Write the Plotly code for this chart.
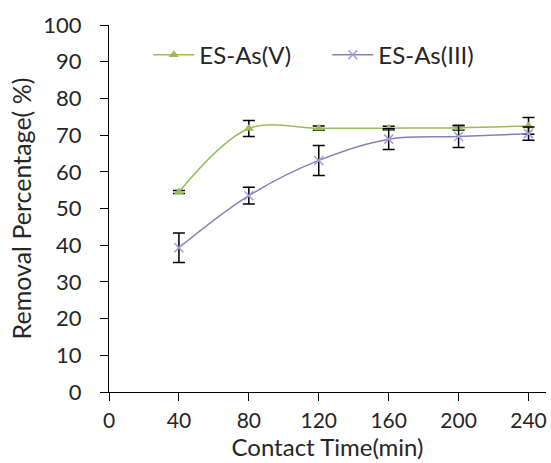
import plotly.graph_objects as go

time_min = [40, 80, 120, 160, 200, 240]
as_v = [54.5, 71.8, 71.9, 71.9, 72.0, 72.5]
as_v_err = [0.4, 2.2, 0.6, 0.5, 0.6, 2.3]
as_iii = [39.3, 53.5, 63.1, 68.9, 69.6, 70.4]
as_iii_err = [4.0, 2.3, 4.1, 2.8, 3.0, 1.8]
x_ticks = [0, 40, 80, 120, 160, 200, 240]
y_ticks = [0, 10, 20, 30, 40, 50, 60, 70, 80, 90, 100]

FONT = "Lato"
TXT = "#262626"

fig = go.Figure()
fig.add_trace(go.Scatter(
    x=time_min, y=as_v, name="ES-As(V)", mode="lines+markers",
    line=dict(color="#9BBB59", width=1.5, shape="spline", smoothing=1),
    marker=dict(symbol="triangle-up", size=9, color="#9BBB59"),
    error_y=dict(type="data", array=as_v_err, color="#000000", thickness=1.5, width=6),
))
fig.add_trace(go.Scatter(
    x=time_min, y=as_iii, name="ES-As(III)", mode="lines+markers",
    line=dict(color="#8E7CC3", width=1.5, shape="spline", smoothing=1),
    marker=dict(symbol="x-thin", size=9, color="#A99BD3", line=dict(color="#A99BD3", width=1.5)),
    error_y=dict(type="data", array=as_iii_err, color="#000000", thickness=1.5, width=6),
))

fig.update_layout(
    width=551, height=463,
    margin=dict(l=109, r=5, t=25, b=71),
    paper_bgcolor="white", plot_bgcolor="white",
    font=dict(family=FONT, size=22, color=TXT),
    showlegend=True,
    legend=dict(orientation="h", x=0.09, y=0.918, xanchor="left", yanchor="middle",
                font=dict(family=FONT, size=24, color=TXT), bgcolor="rgba(0,0,0,0)",
                itemwidth=41, entrywidth=123, entrywidthmode="pixels", tracegroupgap=0),
    xaxis=dict(range=[0, 250], tickvals=x_ticks, ticktext=[str(v) for v in x_ticks],
               showgrid=False, zeroline=False, showline=True, linecolor="#000000", linewidth=1.2,
               ticks="outside", ticklen=8, tickcolor="#000000", tickwidth=1.2,
               ticklabelstandoff=2, tickfont=dict(family=FONT, size=21, color=TXT),
               title=dict(text="Contact Time(min)", font=dict(family=FONT, size=24, color=TXT), standoff=4)),
    yaxis=dict(range=[0, 100], tickvals=y_ticks, ticktext=[str(v) for v in y_ticks],
               showgrid=False, zeroline=False, showline=True, linecolor="#000000", linewidth=1.2,
               ticks="outside", ticklen=8, tickcolor="#000000", tickwidth=1.2,
               ticklabelstandoff=14, tickfont=dict(family=FONT, size=22, color=TXT),
               title=dict(text="Removal Percentage( %)", font=dict(family=FONT, size=25, color=TXT), standoff=4)),
)

fig.write_html("out.html")
